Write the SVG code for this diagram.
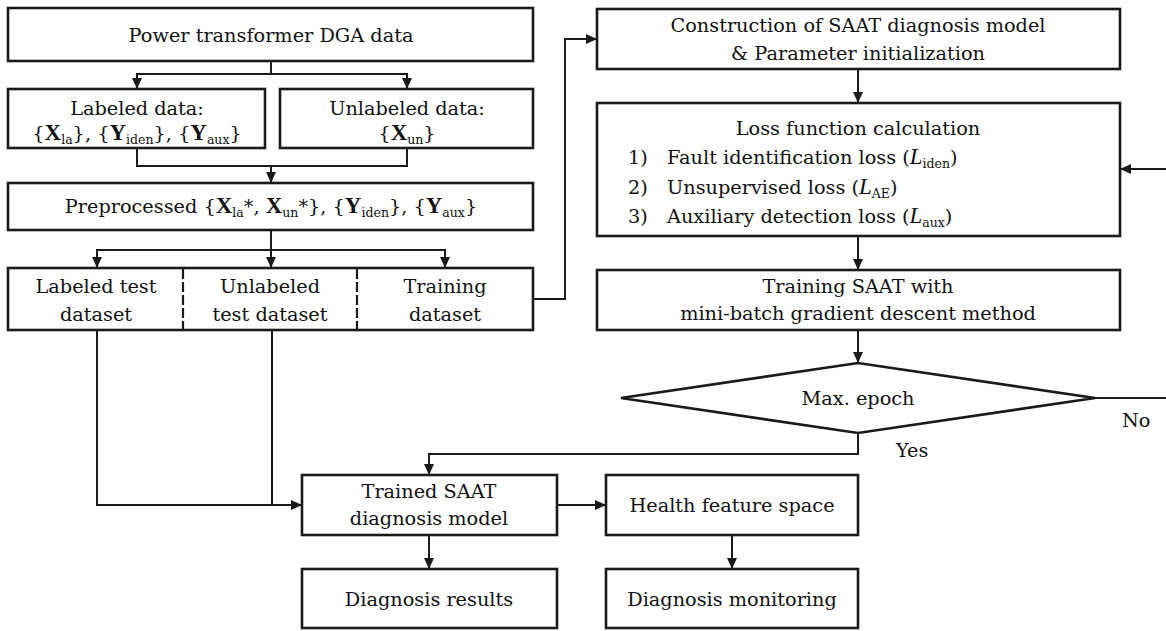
<svg xmlns="http://www.w3.org/2000/svg" width="1166" height="631" viewBox="0 0 1166 631">
  <style>
    .box { fill: #ffffff; stroke: #1a1a1a; stroke-width: 2.6; }
    .ln { fill: none; stroke: #1a1a1a; stroke-width: 2; }
    .dash { fill: none; stroke: #1a1a1a; stroke-width: 2.2; stroke-dasharray: 10 3; }
    text { font-family: "DejaVu Serif", "Liberation Serif", serif; font-size: 19.3px; fill: #111111; }
    .c { text-anchor: middle; }
    .b { font-family: "Liberation Serif", "DejaVu Serif", serif; font-weight: bold; font-size: 23px; }
    .s { font-size: 12.5px; }
    .i { font-family: "Liberation Serif", "DejaVu Serif", serif; font-style: italic; font-size: 23px; }
  </style>
  <defs>
    <marker id="arr" markerUnits="userSpaceOnUse" markerWidth="11" markerHeight="10" refX="11" refY="5" orient="auto">
      <path d="M0,0 L11,5 L0,10 Z" fill="#1a1a1a"/>
    </marker>
  </defs>
  <rect width="1166" height="631" fill="#ffffff"/>

  <!-- connectors -->
  <g id="connectors">
    <path class="ln" d="M271,61 V74 H137 V89" marker-end="url(#arr)"/>
    <path class="ln" d="M271,74 H407 V89" marker-end="url(#arr)"/>
    <path class="ln" d="M137,148 V166 H407 V148"/>
    <path class="ln" d="M271,166 V183" marker-end="url(#arr)"/>
    <path class="ln" d="M271,230 V268" marker-end="url(#arr)"/>
    <path class="ln" d="M271,250 H97 V268" marker-end="url(#arr)"/>
    <path class="ln" d="M271,250 H445 V268" marker-end="url(#arr)"/>
    <path class="ln" d="M533,299 H565 V39 H597" marker-end="url(#arr)"/>
    <path class="ln" d="M858,69 V103" marker-end="url(#arr)"/>
    <path class="ln" d="M858,236 V270" marker-end="url(#arr)"/>
    <path class="ln" d="M858,330 V363" marker-end="url(#arr)"/>
    <path class="ln" d="M1095,398 H1166"/>
    <path class="ln" d="M1166,169 H1120" marker-end="url(#arr)"/>
    <path class="ln" d="M858,433 V454 H429 V475" marker-end="url(#arr)"/>
    <path class="ln" d="M97,330 V505 H302" marker-end="url(#arr)"/>
    <path class="ln" d="M272,330 V505"/>
    <path class="ln" d="M557,505 H606" marker-end="url(#arr)"/>
    <path class="ln" d="M429,535 V569" marker-end="url(#arr)"/>
    <path class="ln" d="M732,535 V569" marker-end="url(#arr)"/>
  </g>

  <g id="dga-data">
    <rect class="box" x="8" y="8" width="525" height="53"/>
    <text class="c" x="271" y="42">Power transformer DGA data</text>
  </g>

  <g id="labeled-data">
    <rect class="box" x="8" y="89" width="257" height="59"/>
    <text class="c" x="137" y="115">Labeled data:</text>
    <text class="c" x="137" y="140">{<tspan class="b">X</tspan><tspan class="s" dy="4">la</tspan><tspan dy="-4">}, {</tspan><tspan class="b">Y</tspan><tspan class="s" dy="4">iden</tspan><tspan dy="-4">}, {</tspan><tspan class="b">Y</tspan><tspan class="s" dy="4">aux</tspan><tspan dy="-4">}</tspan></text>
  </g>

  <g id="unlabeled-data">
    <rect class="box" x="280" y="89" width="253" height="59"/>
    <text class="c" x="407" y="115">Unlabeled data:</text>
    <text class="c" x="407" y="140">{<tspan class="b">X</tspan><tspan class="s" dy="4">un</tspan><tspan dy="-4">}</tspan></text>
  </g>

  <g id="preprocessed">
    <rect class="box" x="8" y="183" width="525" height="47"/>
    <text class="c" x="271" y="213">Preprocessed {<tspan class="b">X</tspan><tspan class="s" dy="4">la</tspan><tspan dy="-4">*, </tspan><tspan class="b">X</tspan><tspan class="s" dy="4">un</tspan><tspan dy="-4">*}, {</tspan><tspan class="b">Y</tspan><tspan class="s" dy="4">iden</tspan><tspan dy="-4">}, {</tspan><tspan class="b">Y</tspan><tspan class="s" dy="4">aux</tspan><tspan dy="-4">}</tspan></text>
  </g>

  <g id="datasets">
    <rect class="box" x="8" y="268" width="525" height="62"/>
    <line class="dash" x1="183" y1="269" x2="183" y2="329"/>
    <line class="dash" x1="357" y1="269" x2="357" y2="329"/>
    <text class="c" x="96" y="293">Labeled test</text>
    <text class="c" x="96" y="321">dataset</text>
    <text class="c" x="270" y="293">Unlabeled</text>
    <text class="c" x="270" y="321">test dataset</text>
    <text class="c" x="445" y="293">Training</text>
    <text class="c" x="445" y="321">dataset</text>
  </g>

  <g id="construction">
    <rect class="box" x="597" y="9" width="523" height="60"/>
    <text class="c" x="858" y="32">Construction of SAAT diagnosis model</text>
    <text class="c" x="858" y="60">&amp; Parameter initialization</text>
  </g>

  <g id="loss">
    <rect class="box" x="597" y="103" width="523" height="133"/>
    <text class="c" x="858" y="135">Loss function calculation</text>
    <text x="628" y="164">1)</text>
    <text x="667" y="164">Fault identification loss (<tspan class="i">L</tspan><tspan class="s" dy="4">iden</tspan><tspan dy="-4">)</tspan></text>
    <text x="628" y="194">2)</text>
    <text x="667" y="194">Unsupervised loss (<tspan class="i">L</tspan><tspan class="s" dy="4">AE</tspan><tspan dy="-4">)</tspan></text>
    <text x="628" y="223">3)</text>
    <text x="667" y="223">Auxiliary detection loss (<tspan class="i">L</tspan><tspan class="s" dy="4">aux</tspan><tspan dy="-4">)</tspan></text>
  </g>

  <g id="training">
    <rect class="box" x="597" y="270" width="523" height="60"/>
    <text class="c" x="858" y="293">Training SAAT with</text>
    <text class="c" x="858" y="320">mini-batch gradient descent method</text>
  </g>

  <g id="max-epoch">
    <polygon class="box" points="621,398 858,363 1095,398 858,433"/>
    <text class="c" x="858" y="405">Max. epoch</text>
    <text x="1122" y="427">No</text>
    <text x="896" y="457">Yes</text>
  </g>

  <g id="trained-model">
    <rect class="box" x="302" y="475" width="255" height="60"/>
    <text class="c" x="429" y="498">Trained SAAT</text>
    <text class="c" x="429" y="525">diagnosis model</text>
  </g>

  <g id="health-space">
    <rect class="box" x="606" y="475" width="252" height="60"/>
    <text class="c" x="732" y="512">Health feature space</text>
  </g>

  <g id="results">
    <rect class="box" x="302" y="569" width="255" height="59"/>
    <text class="c" x="429" y="606">Diagnosis results</text>
  </g>

  <g id="monitoring">
    <rect class="box" x="606" y="569" width="252" height="59"/>
    <text class="c" x="732" y="606">Diagnosis monitoring</text>
  </g>
</svg>
